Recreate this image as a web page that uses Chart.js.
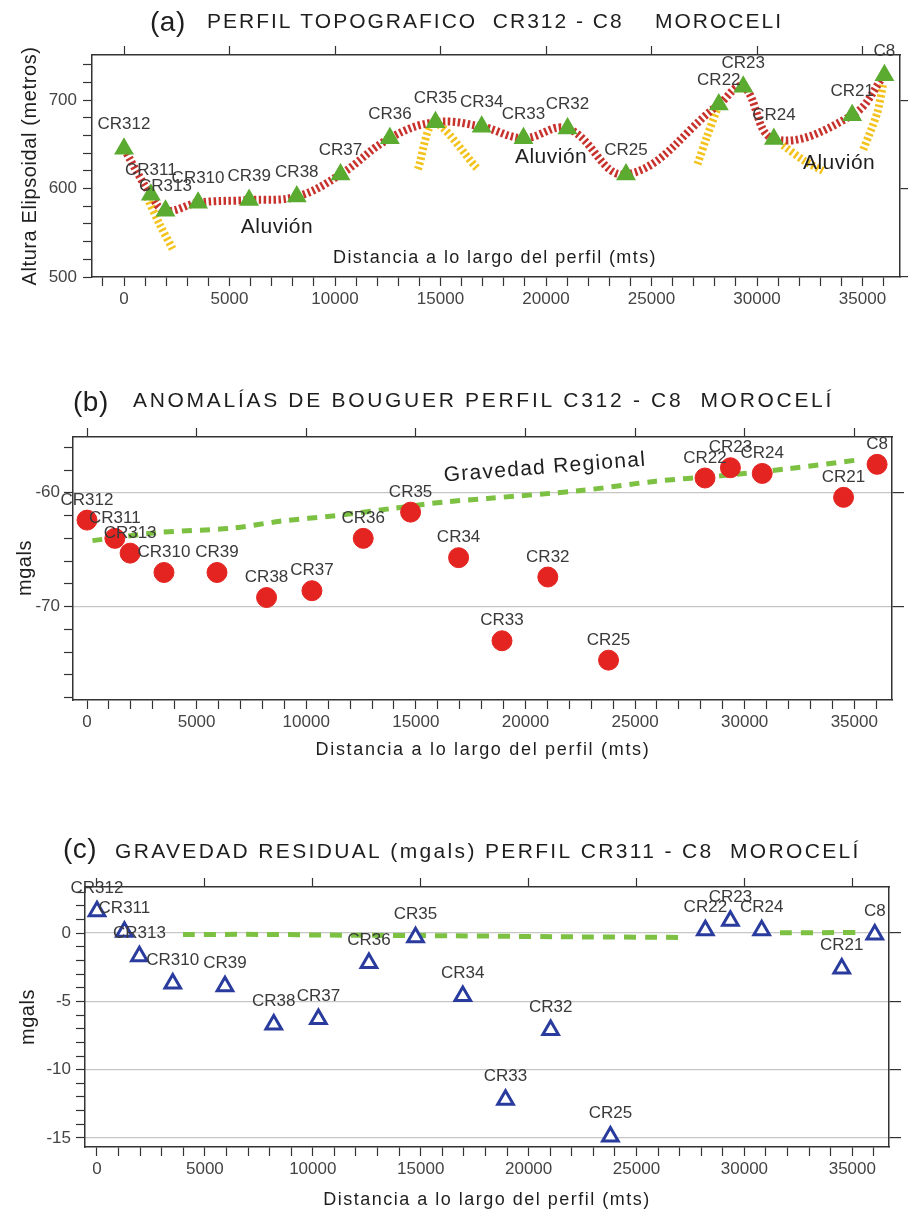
<!DOCTYPE html>
<html lang="es">
<head>
<meta charset="utf-8">
<title>Perfil CR312 - C8 Moroceli</title>
<script src="https://cdn.jsdelivr.net/npm/chart.js@4.4.1/dist/chart.umd.min.js"></script>
<style>
    html, body { margin: 0; padding: 0; background: #fff; }
    #hoja { position: relative; width: 908px; height: 1213px; overflow: hidden; }
    canvas { position: absolute; left: 0; }
    #perfil { top: 0; }
    #bouguer { top: 320px; }
    #residual { top: 770px; }
</style>
</head>
<body>
<div id="hoja">
    <canvas id="perfil" width="908" height="320"></canvas>
    <canvas id="bouguer" width="908" height="450"></canvas>
    <canvas id="residual" width="908" height="443"></canvas>
</div>
<script>
// estaciones del perfil y distancia a lo largo del perfil (mts)
const estaciones = ['CR312', 'CR311', 'CR313', 'CR310', 'CR39', 'CR38', 'CR37', 'CR36', 'CR35', 'CR34', 'CR33', 'CR32', 'CR25', 'CR22', 'CR23', 'CR24', 'CR21', 'C8'];
const distancias = [0, 1270, 1965, 3510, 5930, 8190, 10260, 12600, 14760, 16950, 18930, 21020, 23790, 28190, 29350, 30800, 34510, 36040];

// etiquetas de los ejes
const ticksDistancia = [0, 5000, 10000, 15000, 20000, 25000, 30000, 35000];
const ticksAltura = [500, 600, 700];
const ticksBouguer = [-70, -60];
const ticksResidual = [-15, -10, -5, 0];

// (a) altura elipsoidal (metros)
const alturas = [645, 593, 575, 584, 587, 591, 616, 657, 675, 670, 657, 668, 616, 695, 715, 656, 683, 728];

// (a) tramos de aluvión
const aluvion1X = [1090, 1700, 2320];
const aluvion1Y = [590, 559, 531];
const aluvion2X = [13930, 14700, 16730];
const aluvion2Y = [622, 674, 623];
const aluvion3X = [28100, 27600, 27160];
const aluvion3Y = [689, 657, 626];
const aluvion4X = [31230, 32200, 33130];
const aluvion4Y = [649, 632, 620];
const aluvion5X = [35970, 35690, 35020];
const aluvion5Y = [717, 685, 643];

// (b) anomalías de Bouguer (mgals)
const bouguer = [-62.4, -64.0, -65.3, -67.0, -67.0, -69.2, -68.6, -64.0, -61.7, -65.7, -73.0, -67.4, -74.7, -58.7, -57.8, -58.3, -60.4, -57.5];
const regionalX = [250, 3190, 6660, 8800, 11400, 13820, 16330, 18250, 22540, 25870, 28920, 31930, 35220];
const regionalY = [-64.2, -63.5, -63.1, -62.5, -62.0, -61.4, -60.8, -60.5, -59.8, -59.0, -58.5, -57.9, -57.1];

// (c) gravedad residual (mgals)
const residual = [1.6, 0.1, -1.7, -3.7, -3.9, -6.7, -6.3, -2.2, -0.3, -4.6, -12.2, -7.1, -14.9, 0.2, 0.9, 0.2, -2.6, -0.1];
const regResX = [3985, 7880, 10700, 16540, 21180, 27200, 29000, 31650, 35360];
const regResY = [-0.1, -0.1, -0.15, -0.2, -0.27, -0.32, null, 0.02, 0.04];

const FUENTE = '"Liberation Sans", Arial, Helvetica, sans-serif';
Chart.defaults.font.family = FUENTE;
Chart.defaults.color = '#444';

const VERDE = '#5aab2f';
const ROJO = '#c8322d';
const AMARILLO = '#f3c21c';
const VERDE_LINEA = '#7cc142';
const ROJO_CIRCULO = '#e42421';
const AZUL = '#2a3b9e';

const puntos = (xs, ys) => xs.map((x, i) => ({ x, y: ys[i] }));

// marcas menores cada "paso" dentro del rango del eje
const marcasCada = (min, max, paso) => {
    const marcas = [];
    for (let v = Math.ceil(min / paso) * paso; v <= max; v += paso) marcas.push({ value: v });
    return marcas;
};
const marcasDe = (lista, min, max) => lista.filter((v) => v >= min && v <= max).map((v) => ({ value: v }));

const crearEtiquetas = (nombres, dy) => ({
    id: 'etiquetas',
    afterDatasetsDraw(chart) {
        const ctx = chart.ctx;
        const meta = chart.getDatasetMeta(0);
        ctx.save();
        ctx.font = '17px ' + FUENTE;
        ctx.fillStyle = '#3a3a3a';
        ctx.textAlign = 'center';
        ctx.textBaseline = 'middle';
        meta.data.forEach((p, i) => ctx.fillText(nombres[i], p.x, p.y - dy));
        ctx.restore();
    }
});

const crearTextos = (textos) => ({
    id: 'textos',
    afterDraw(chart) {
        const ctx = chart.ctx;
        textos.forEach((t) => {
            let x = t.x;
            let y = t.y;
            if (t.datos) {
                x = chart.scales.x.getPixelForValue(t.x);
                y = chart.scales.y.getPixelForValue(t.y);
            }
            ctx.save();
            ctx.translate(x, y);
            if (t.giro) ctx.rotate(t.giro * Math.PI / 180);
            ctx.font = t.tam + 'px ' + FUENTE;
            ctx.letterSpacing = (t.esp || 0) + 'px';
            ctx.fillStyle = t.color || '#1e1e1e';
            ctx.textAlign = t.alinear || 'center';
            ctx.textBaseline = t.base || 'middle';
            ctx.fillText(t.texto, 0, 0);
            ctx.restore();
        });
    }
});

const escalas = (c) => {
    const borde = { display: true, color: '#333', width: 1.5 };
    const marcas = { drawOnChartArea: false, tickColor: '#333', tickLength: 9, tickWidth: 1.2 };
    return {
        x: {
            type: 'linear', position: 'bottom', min: c.xMin, max: c.xMax,
            border: borde, grid: marcas,
            afterBuildTicks: (s) => { s.ticks = marcasCada(c.xMin, c.xMax, 1000); },
            ticks: {
                autoSkip: false, maxRotation: 0, minRotation: 0,
                padding: 3, font: { size: 17 }, color: '#444',
                callback: (v) => (ticksDistancia.includes(v) ? String(v) : '')
            },
            afterFit: (s) => { s.height = c.abajo; }
        },
        x2: {
            type: 'linear', position: 'top', min: c.xMin, max: c.xMax,
            border: borde, grid: marcas,
            afterBuildTicks: (s) => { s.ticks = marcasDe(ticksDistancia, c.xMin, c.xMax); },
            ticks: { display: false },
            afterFit: (s) => { s.height = c.arriba; }
        },
        y: {
            type: 'linear', position: 'left', min: c.yMin, max: c.yMax,
            border: borde, grid: marcas,
            afterBuildTicks: (s) => { s.ticks = marcasCada(c.yMin, c.yMax, c.yPaso); },
            ticks: {
                autoSkip: false,
                padding: c.padY, font: { size: 17 }, color: '#444',
                callback: (v) => (c.yEtiquetas.includes(v) ? String(v) : '')
            },
            afterFit: (s) => { s.width = c.izq; }
        },
        y2: {
            type: 'linear', position: 'right', min: c.yMin, max: c.yMax,
            border: borde,
            grid: { drawOnChartArea: c.rejilla, color: '#c6c6c6', lineWidth: 1.2, tickColor: '#333', tickLength: c.marcaDer, tickWidth: 1.2 },
            afterBuildTicks: (s) => { s.ticks = marcasDe(c.yEtiquetas, c.yMin, c.yMax); },
            ticks: { display: false },
            afterFit: (s) => { s.width = c.der; }
        }
    };
};

const opcionesBase = (c) => ({
    responsive: false,
    animation: false,
    devicePixelRatio: 1,
    events: [],
    layout: { padding: 0, autoPadding: false },
    plugins: { legend: { display: false }, tooltip: { enabled: false } },
    scales: escalas(c)
});

const linea = (xs, ys, color, ancho, guion, tension) => ({
    data: puntos(xs, ys),
    showLine: true,
    spanGaps: false,
    tension,
    borderColor: color,
    borderWidth: ancho,
    borderDash: guion,
    pointRadius: 0,
    fill: false,
    xAxisID: 'x',
    yAxisID: 'y'
});

// (a) perfil topográfico
const crearGraficoPerfil = () => {
    const aluviones = [
        [aluvion1X, aluvion1Y], [aluvion2X, aluvion2Y], [aluvion3X, aluvion3Y],
        [aluvion4X, aluvion4Y], [aluvion5X, aluvion5Y]
    ];
    new Chart(document.getElementById('perfil'), {
        type: 'scatter',
        data: {
            datasets: [
                {
                    label: 'Estaciones',
                    data: puntos(distancias, alturas),
                    pointStyle: 'triangle',
                    pointRadius: 10,
                    pointBackgroundColor: VERDE,
                    pointBorderColor: VERDE,
                    pointBorderWidth: 1.5,
                    showLine: false,
                    xAxisID: 'x',
                    yAxisID: 'y'
                },
                { label: 'Perfil', ...linea(distancias, alturas, ROJO, 8, [2.5, 2.5], 0.4) },
                ...aluviones.map(([xs, ys]) => ({ label: 'Aluvión', ...linea(xs, ys, AMARILLO, 8, [2.5, 2.5], 0.3) }))
            ]
        },
        options: opcionesBase({
            xMin: -1517, xMax: 36777, yMin: 500, yMax: 751, yPaso: 20, yEtiquetas: ticksAltura,
            rejilla: false, izq: 92, der: 8, arriba: 55, abajo: 43, padY: 6, marcaDer: 8
        }),
        plugins: [
            crearEtiquetas(estaciones, 24),
            crearTextos([
                { texto: '(a)', x: 150, y: 31, tam: 28, esp: 0.5, alinear: 'left', base: 'alphabetic' },
                { texto: 'PERFIL TOPOGRAFICO  CR312 - C8    MOROCELI', x: 207, y: 28, tam: 21, esp: 2, alinear: 'left', base: 'alphabetic' },
                { texto: 'Altura Elipsoidal (metros)', x: 30, y: 166, tam: 20, esp: 0.6, giro: -90 },
                { texto: 'Distancia a lo largo del perfil (mts)', x: 495, y: 258, tam: 18, esp: 1.4 },
                { texto: 'Aluvión', datos: true, x: 7250, y: 556, tam: 21, esp: 0.5 },
                { texto: 'Aluvión', datos: true, x: 20240, y: 635, tam: 21, esp: 0.5 },
                { texto: 'Aluvión', datos: true, x: 33890, y: 629, tam: 21, esp: 0.5 }
            ])
        ]
    });
};

// (b) anomalías de Bouguer
const crearGraficoBouguer = () => {
    new Chart(document.getElementById('bouguer'), {
        type: 'scatter',
        data: {
            datasets: [
                {
                    label: 'Bouguer',
                    data: puntos(distancias, bouguer),
                    pointStyle: 'circle',
                    pointRadius: 10,
                    pointBackgroundColor: ROJO_CIRCULO,
                    pointBorderColor: ROJO_CIRCULO,
                    pointBorderWidth: 1,
                    showLine: false,
                    xAxisID: 'x',
                    yAxisID: 'y'
                },
                { label: 'Gravedad Regional', ...linea(regionalX, regionalY, VERDE_LINEA, 5, [10, 8], 0.3) }
            ]
        },
        options: opcionesBase({
            xMin: -639, xMax: 36720, yMin: -78.2, yMax: -55.1, yPaso: 2, yEtiquetas: ticksBouguer,
            rejilla: true, izq: 73, der: 16, arriba: 117, abajo: 70, padY: 4, marcaDer: 12
        }),
        plugins: [
            crearEtiquetas(estaciones, 20),
            crearTextos([
                { texto: '(b)', x: 73, y: 91, tam: 28, esp: 0.5, alinear: 'left', base: 'alphabetic' },
                { texto: 'ANOMALÍAS DE BOUGUER PERFIL C312 - C8  MOROCELÍ', x: 133, y: 87, tam: 21, esp: 2.7, alinear: 'left', base: 'alphabetic' },
                { texto: 'mgals', x: 25, y: 248, tam: 20, esp: 0.5, giro: -90 },
                { texto: 'Distancia a lo largo del perfil (mts)', x: 483, y: 430, tam: 18, esp: 1.7 },
                { texto: 'Gravedad Regional', datos: true, x: 20890, y: -57.8, tam: 21, esp: 1.3, giro: -4.5 }
            ])
        ]
    });
};

// (c) gravedad residual
const crearGraficoResidual = () => {
    new Chart(document.getElementById('residual'), {
        type: 'scatter',
        data: {
            datasets: [
                {
                    label: 'Residual',
                    data: puntos(distancias, residual),
                    pointStyle: 'triangle',
                    pointRadius: 9,
                    pointBackgroundColor: '#fff',
                    pointBorderColor: AZUL,
                    pointBorderWidth: 3,
                    showLine: false,
                    xAxisID: 'x',
                    yAxisID: 'y'
                },
                { label: 'Regional', ...linea(regResX, regResY, VERDE_LINEA, 5, [12, 9], 0.2) }
            ]
        },
        options: opcionesBase({
            xMin: -556, xMax: 36700, yMin: -15.66, yMax: 3.37, yPaso: 1, yEtiquetas: ticksResidual,
            rejilla: true, izq: 85, der: 19, arriba: 117, abajo: 66, padY: 5, marcaDer: 12
        }),
        plugins: [
            crearEtiquetas(estaciones, 23),
            crearTextos([
                { texto: '(c)', x: 63, y: 88, tam: 28, esp: 0.5, alinear: 'left', base: 'alphabetic' },
                { texto: 'GRAVEDAD RESIDUAL (mgals) PERFIL CR311 - C8  MOROCELÍ', x: 115, y: 88, tam: 21, esp: 2.35, alinear: 'left', base: 'alphabetic' },
                { texto: 'mgals', x: 28, y: 247, tam: 20, esp: 0.5, giro: -90 },
                { texto: 'Distancia a lo largo del perfil (mts)', x: 487, y: 430, tam: 18, esp: 1.5 }
            ])
        ]
    });
};

crearGraficoPerfil();
crearGraficoBouguer();
crearGraficoResidual();
</script>
</body>
</html>
